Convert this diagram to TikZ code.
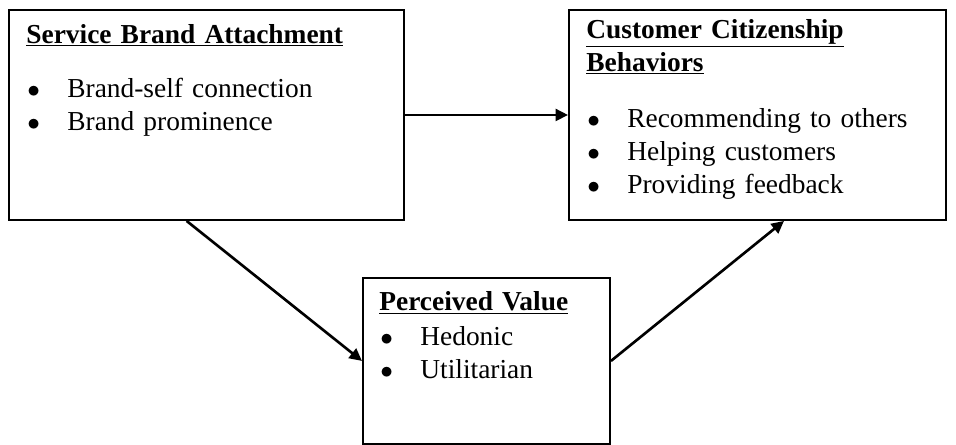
\documentclass[tikz,border=0pt]{standalone}
\usepackage{fontspec}
\setmainfont{Liberation Serif}
\usetikzlibrary{positioning, calc, arrows.meta}

\newcommand{\bitem}[1]{\hspace*{0.2mm}\makebox[8mm][l]{$\bullet$}#1}
\newcommand{\heading}[1]{\underline{\textbf{#1}}}

\begin{document}
\begin{tikzpicture}[x=0.2mm, y=-0.2mm,
		box/.style={draw, line width=1.1pt, anchor=north west, inner sep=0pt, minimum height=42mm},
		txt/.style={anchor=base west, inner sep=0pt, align=left, text width=#1, font=\fontsize{15.6}{18.8}\selectfont},
		arr/.style={line width=1.5pt, -{Triangle[length=2.5mm, width=2.4mm]}}]
			\useasboundingbox (0,0) rectangle (956,445);
			
			\node[box, minimum width=79mm] (sba) at (8,9) {};
			\node[box, minimum width=75.4mm] (ccb) at (568,9) {};
			\node[box, minimum width=49.4mm, minimum height=33.2mm] (pv) at (362,277) {};
			
			\node[txt=72mm] (sbatext) at (26,43) {\heading{Service Brand Attachment}\\[4.2mm]
				\bitem{Brand-self connection}\\
				\bitem{Brand prominence}};
			\node[txt=70mm] (ccbtext) at (586,38) {\heading{Customer Citizenship}\\
				\heading{Behaviors}\\[4.6mm]
				\bitem{Recommending to others}\\
				\bitem{Helping customers}\\
				\bitem{Providing feedback}};
			\node[txt=45mm] (pvtext) at (379,310) {\heading{Perceived Value}\\[0.4mm]
				\bitem{Hedonic}\\
				\bitem{Utilitarian}};
			
			\draw[arr] (sba.east) -- (ccb.west);
			\draw[arr] ($(sba.south west)!0.45!(sba.south east)$) -- (pv.west);
			\draw[arr] (pv.east) -- ($(ccb.south west)!0.57!(ccb.south east)$);
		\end{tikzpicture}
\end{document}
